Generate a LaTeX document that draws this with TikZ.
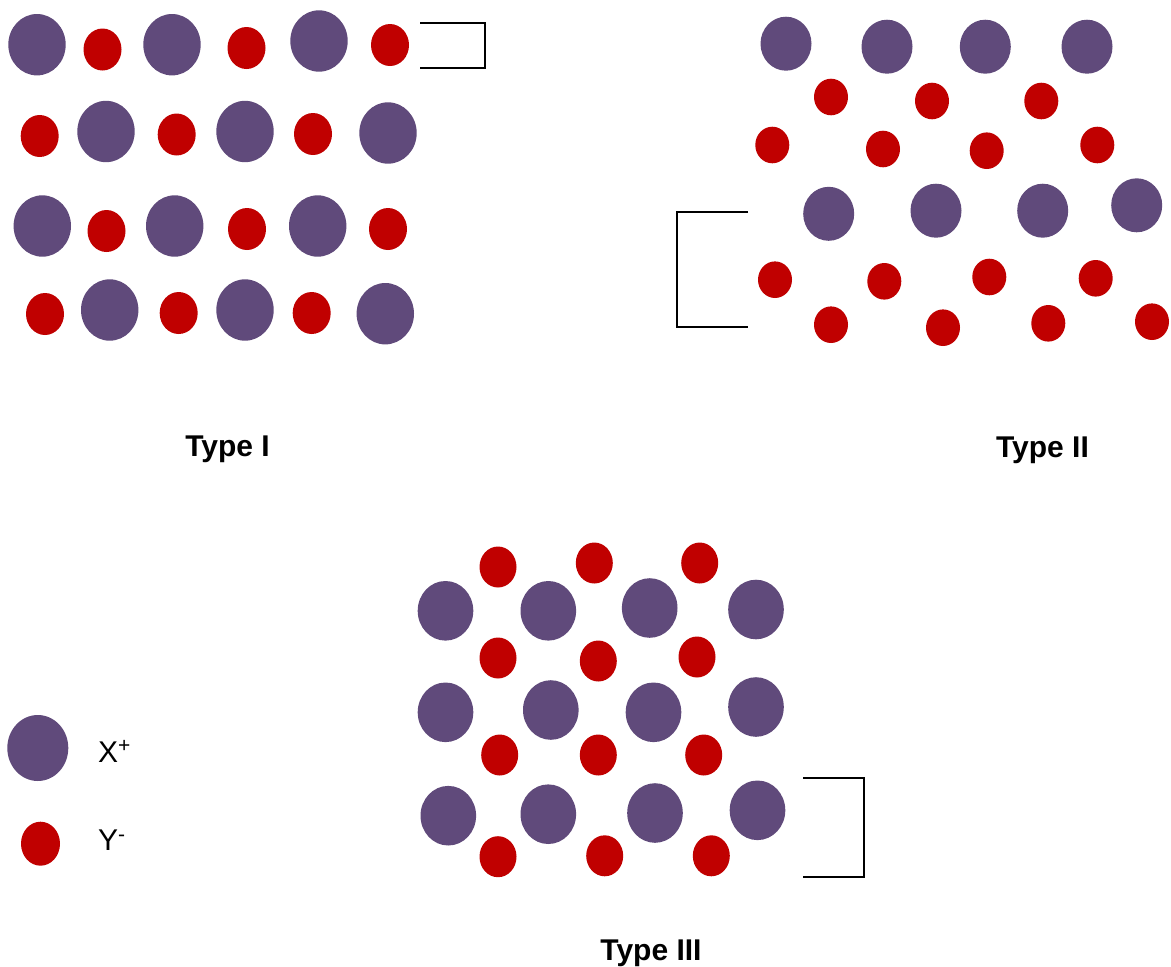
\documentclass[tikz,border=0pt]{standalone}
\usepackage{fontspec}
\setmainfont{Liberation Sans}
\definecolor{cationcol}{HTML}{604A7B}
\definecolor{anioncol}{HTML}{C00000}
\begin{document}
\begin{tikzpicture}[x=1pt,y=-1pt,
  bigion/.style={fill=cationcol},
  smallion/.style={fill=anioncol},
  cellmark/.style={draw=black,line width=2.5pt},
  caption/.style={font=\fontsize{30}{36}\selectfont\bfseries, anchor=base, inner sep=0pt},
  legendtext/.style={font=\fontsize{30}{36}\selectfont, anchor=base west, inner sep=0pt}]
\useasboundingbox (0,0) rectangle (1171,967);

% ---------- Type I: alternating rows ----------
\foreach \px/\py in {37/44.7,172/44.7,319/41,
                     106/131.5,245/131.5,388/133,
                     42.3/226,174.7/226,317.7/226,
                     109.7/310,245/310,385.3/313.7}
  \fill[bigion] (\px,\py) ellipse [x radius=28.7pt, y radius=30.7pt];
\foreach \px/\py in {102.5/49.5,246.5/48,390/45,
                     39.7/136,176.7/134.5,313/134,
                     106.5/231,247/229,388/229,
                     45/314,178.7/313,311.7/313}
  \fill[smallion] (\px,\py) ellipse [x radius=19pt, y radius=21pt];
\draw[cellmark] (420,23) -- (485,23) -- (485,68) -- (420,68);
\node[caption] (captionI) at (227.5,456.7) {Type I};

% ---------- Type II: layered ----------
\foreach \px/\py in {786/43.7,887/46.7,985.3/46.7,1087/46.7,
                     828.7/213.8,936/210.7,1042.7/210.7,1136.7/205.3}
  \fill[bigion] (\px,\py) ellipse [x radius=25.5pt, y radius=27pt];
\foreach \px/\py in {831/97,932/101,1041.3/101,
                     772.3/145,883/149,986.7/150.7,1097.3/145,
                     775/279.7,884.3/281.3,989.3/277,1095.7/278.3,
                     831/324.7,943/327.7,1048.3/323.3,1152/321.7}
  \fill[smallion] (\px,\py) ellipse [x radius=17pt, y radius=18.3pt];
\draw[cellmark] (748,212) -- (677,212) -- (677,327) -- (748,327);
\node[caption] (captionII) at (1042.5,457) {Type II};

% ---------- Type III: close packed ----------
\foreach \px/\py in {445.5/610.8,548.3/610.8,649.7/608,756/609.5,
                     445.5/712.3,550.8/710,653.5/712.3,756/707,
                     448.3/815.7,548.3/814.2,655/813,757.5/810.3}
  \fill[bigion] (\px,\py) ellipse [x radius=27.8pt, y radius=29.8pt];
\foreach \px/\py in {498/567,594.3/563,699.7/563,
                     498/658,598.3/661,697/657,
                     499.7/755,598.3/755,703.7/755,
                     498/856.7,604.7/855.8,711.3/855.8}
  \fill[smallion] (\px,\py) ellipse [x radius=18.5pt, y radius=20.5pt];
\draw[cellmark] (803,778) -- (864,778) -- (864,877) -- (803,877);
\node[caption] (captionIII) at (651,960) {Type III};

% ---------- Legend ----------
\fill[bigion] (37.8,748) ellipse [x radius=30.5pt, y radius=33pt];
\fill[smallion] (40.5,843.7) ellipse [x radius=19.5pt, y radius=22pt];
\node[legendtext] (keyX) at (98,762) {X\textsuperscript{+}};
\node[legendtext] (keyY) at (98,850.7) {Y\textsuperscript{-}};
\end{tikzpicture}
\end{document}
